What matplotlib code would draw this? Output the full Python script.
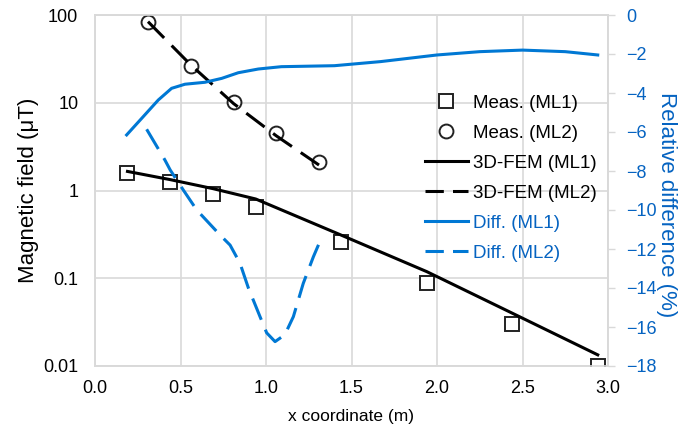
import matplotlib
matplotlib.use("Agg")
import matplotlib.pyplot as plt
from matplotlib.lines import Line2D

plt.rcParams['font.family'] = ['Liberation Sans', 'DejaVu Sans']

BLUE = '#0078d4'
TICK_BLUE = '#0563c1'
GRID = '#d9d9d9'

# measured field along the two measurement lines
x_ml1 = [0.19, 0.44, 0.69, 0.94, 1.44, 1.94, 2.44, 2.94]
meas_ml1 = [1.6, 1.25, 0.92, 0.65, 0.26, 0.089, 0.030, 0.010]
x_ml2 = [0.31, 0.56, 0.81, 1.06, 1.31]
meas_ml2 = [84, 26, 10.2, 4.5, 2.1]

# 3D-FEM results at the same positions
fem_ml1 = [1.65, 1.33, 1.05, 0.80, 0.31, 0.119, 0.040, 0.0134]
fem_ml2 = [84, 27, 9.8, 4.2, 1.95]

# relative difference curves (%)
diff1_x = [0.185, 0.273, 0.37, 0.448, 0.526, 0.643, 0.741, 0.838, 0.955, 1.09,
           1.40, 1.67, 2.0, 2.25, 2.5, 2.75, 2.94]
diff1_y = [-6.15, -5.3, -4.36, -3.76, -3.55, -3.45, -3.25, -2.96, -2.77, -2.65,
           -2.6, -2.39, -2.05, -1.88, -1.8, -1.88, -2.05]
diff2_x = [0.302, 0.409, 0.44, 0.516, 0.595, 0.731, 0.79, 0.848, 0.897, 0.965,
           1.004, 1.053, 1.11, 1.16, 1.218, 1.277, 1.316]
diff2_y = [-5.86, -7.44, -7.95, -8.97, -10.0, -11.28, -11.8, -12.73, -14.0, -15.47,
           -16.3, -16.75, -16.4, -15.47, -13.76, -12.4, -11.6]

fig = plt.figure(figsize=(6.93, 4.26), dpi=100)
ax = fig.add_axes([95 / 693, 60 / 426, 513 / 693, 351 / 426])
ax2 = ax.twinx()

dash = (7.5, 3.5)

ax.plot(x_ml1, meas_ml1, ls='none', marker='s', ms=10, mfc='white', mec='#222222', mew=1.4, zorder=3)
ax.plot(x_ml2, meas_ml2, ls='none', marker='o', ms=10, mfc='white', mec='#222222', mew=1.4, zorder=3)
ax.plot(x_ml1, fem_ml1, color='black', lw=2.2, zorder=4)
ax.plot(x_ml2, fem_ml2, color='black', lw=2.2, dashes=dash, zorder=4)

ax2.plot(diff1_x, diff1_y, color=BLUE, lw=2.2)
ax2.plot(diff2_x, diff2_y, color=BLUE, lw=2.2, dashes=dash)

ax.set_yscale('log')
ax.set_xlim(0, 3.0)
ax.set_ylim(0.01, 100)
ax.set_xticks([0.0, 0.5, 1.0, 1.5, 2.0, 2.5, 3.0])
ax.set_xticklabels(['0.0', '0.5', '1.0', '1.5', '2.0', '2.5', '3.0'])
ax.set_yticks([0.01, 0.1, 1, 10, 100])
ax.set_yticklabels(['0.01', '0.1', '1', '10', '100'])
ax.minorticks_off()
ax.tick_params(axis='both', length=0, labelsize=13, colors='black')
ax.tick_params(axis='y', pad=12)
ax.tick_params(axis='x', pad=10)
ax.grid(True, color=GRID, lw=1.2)
ax.set_axisbelow(True)

ax2.set_ylim(-18, 0)
ax2.set_yticks(range(-18, 1, 2))
ax2.tick_params(axis='y', length=5, width=1, color=GRID, labelsize=13,
                labelcolor=TICK_BLUE, pad=8)

for a in (ax, ax2):
    for s in a.spines.values():
        s.set_color(GRID)
        s.set_linewidth(1.2)

ax.set_xlabel('x coordinate (m)', fontsize=12.5, labelpad=9)
ax.set_ylabel('Magnetic field (μT)', fontsize=16, labelpad=3)
ax2.set_ylabel('Relative difference (%)', fontsize=16, color=TICK_BLUE,
               rotation=270, va='center', ha='center')
ax2.yaxis.set_label_coords(1.115, 0.46)

handles = [
    Line2D([], [], ls='none', marker='s', ms=10, mfc='white', mec='#222222', mew=1.4),
    Line2D([], [], ls='none', marker='o', ms=10, mfc='white', mec='#222222', mew=1.4),
    Line2D([], [], color='black', lw=2.2),
    Line2D([], [], color='black', lw=2.2, dashes=(6, 3)),
    Line2D([], [], color=BLUE, lw=2.2),
    Line2D([], [], color=BLUE, lw=2.2, dashes=(6, 3)),
]
labels = ['Meas. (ML1)', 'Meas. (ML2)', '3D-FEM (ML1)', '3D-FEM (ML2)',
          'Diff. (ML1)', 'Diff. (ML2)']
leg = ax2.legend(handles, labels, frameon=False, fontsize=13.5,
                 loc='upper left', bbox_to_anchor=(322 / 513, 0.795),
                 handlelength=2.3, handletextpad=0.3, labelspacing=0.69,
                 borderaxespad=0)
for t in leg.get_texts()[4:]:
    t.set_color(TICK_BLUE)

fig.savefig('out.png', dpi=100)
